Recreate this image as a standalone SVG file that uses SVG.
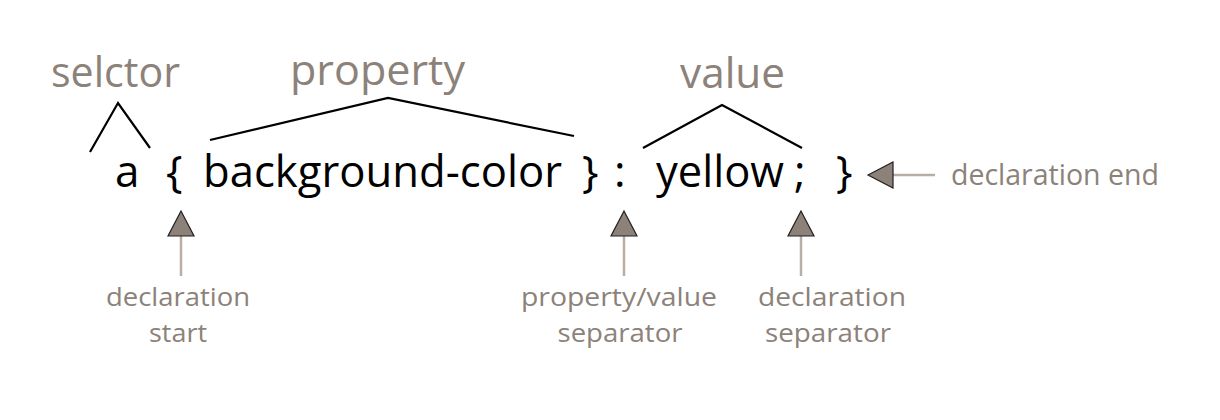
<svg xmlns="http://www.w3.org/2000/svg" width="1220" height="420" viewBox="0 0 1220 420">
<style>
.title{font-family:"Open Sans","Noto Sans",sans-serif;font-size:42px;fill:#8c8279}
.code{font-family:"Open Sans","Noto Sans",sans-serif;font-size:44px;fill:#000}
.label{font-family:"Open Sans","Noto Sans",sans-serif;font-size:25.5px;fill:#8c8279;text-anchor:middle}
.end{font-size:28.5px;text-anchor:start}
.caret{fill:none;stroke:#000;stroke-width:2.2}
.stem{stroke:#b8aea6;stroke-width:2.5;fill:none}
.head{fill:#8c8279;stroke:#231f20;stroke-width:1.2;stroke-linejoin:miter}
</style>
<rect width="1220" height="420" fill="#fff"/>
<g id="code">
<text class="code" x="115" y="187">a</text>
<text class="code" x="166" y="187">{</text>
<text class="code" x="203" y="187" textLength="359" lengthAdjust="spacingAndGlyphs">background-color</text>
<text class="code" x="582" y="187">}</text>
<text class="code" x="614" y="187">:</text>
<text class="code" x="656" y="187" textLength="128" lengthAdjust="spacingAndGlyphs">yellow</text>
<text class="code" x="794" y="187">;</text>
<text class="code" x="836" y="187">}</text>
</g>
<g id="selector">
<text class="title" x="51" y="87" textLength="129" lengthAdjust="spacingAndGlyphs">selctor</text>
</g>
<g id="property">
<text class="title" x="290" y="85" textLength="175" lengthAdjust="spacingAndGlyphs">property</text>
</g>
<g id="value">
<text class="title" x="680" y="88" textLength="105" lengthAdjust="spacingAndGlyphs">value</text>
</g>
<g id="declaration-start">
<text class="label" x="178" y="306" textLength="144" lengthAdjust="spacingAndGlyphs">declaration</text>
<text class="label" x="178" y="342" textLength="58" lengthAdjust="spacingAndGlyphs">start</text>
</g>
<g id="property-value-separator">
<text class="label" x="619" y="306" textLength="196" lengthAdjust="spacingAndGlyphs">property/value</text>
<text class="label" x="620" y="342" textLength="125" lengthAdjust="spacingAndGlyphs">separator</text>
</g>
<g id="declaration-separator">
<text class="label" x="832" y="306" textLength="148" lengthAdjust="spacingAndGlyphs">declaration</text>
<text class="label" x="828" y="342" textLength="126" lengthAdjust="spacingAndGlyphs">separator</text>
</g>
<g id="declaration-end">
<text class="label end" x="951" y="185">declaration end</text>
</g>
<g id="connectors">
<polyline class="caret" points="90,152 118,103 150,148"/>
<polyline class="caret" points="210,140 388,98 574,136"/>
<polyline class="caret" points="643,148 722,105 802,148"/>
<line class="stem" x1="181" y1="236" x2="181" y2="276"/>
<polygon class="head" points="181,211 168,236 194,236"/>
<line class="stem" x1="624" y1="236" x2="624" y2="276"/>
<polygon class="head" points="624,211 611,236 637,236"/>
<line class="stem" x1="801" y1="236" x2="801" y2="276"/>
<polygon class="head" points="801,211 788,236 814,236"/>
<line class="stem" x1="893" y1="175" x2="935" y2="175"/>
<polygon class="head" points="868,175 893,162 893,188"/>
</g>
</svg>
